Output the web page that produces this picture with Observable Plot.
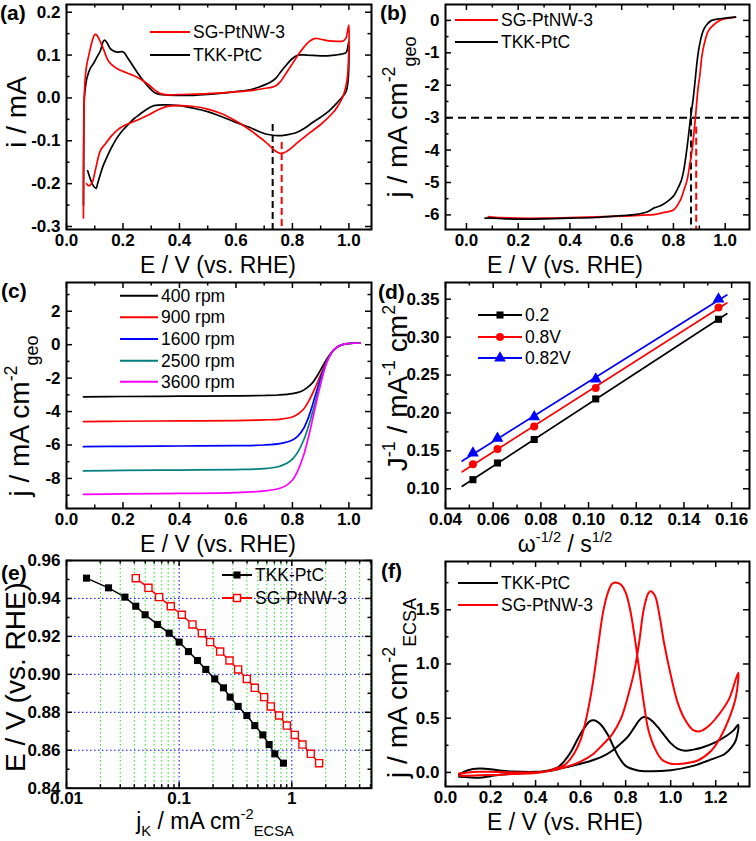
<!DOCTYPE html>
<html><head><meta charset="utf-8">
<script src="https://cdn.jsdelivr.net/npm/d3@7"></script>
<script src="https://cdn.jsdelivr.net/npm/@observablehq/plot@0.6"></script>
<style>
body{margin:0;background:#fff;}
#fig{position:relative;width:756px;height:841px;overflow:hidden;background:#fff;}
#fig svg{position:absolute;overflow:visible;}
</style></head><body><div id="fig"></div>
<script>
// ---------------- DATA ----------------
// (a) CV in N2 : [E (V vs RHE), i (mA)] closed loops
const aTKK = [[0.06,-0.25],[0.061,-0.1],[0.063,0.0],[0.068,0.03],[0.073,0.048],[0.085,0.07],[0.097,0.082],[0.11,0.098],[0.12,0.11],[0.13,0.132],[0.135,0.135],[0.144,0.128],[0.155,0.115],[0.165,0.11],[0.18,0.107],[0.197,0.108],[0.205,0.105],[0.215,0.095],[0.232,0.078],[0.25,0.06],[0.27,0.042],[0.286,0.029],[0.305,0.016],[0.32,0.01],[0.35,0.007],[0.4,0.006],[0.45,0.006],[0.5,0.008],[0.55,0.011],[0.6,0.015],[0.65,0.019],[0.68,0.025],[0.72,0.036],[0.74,0.045],[0.76,0.062],[0.78,0.078],[0.8,0.092],[0.82,0.1],[0.85,0.1],[0.9,0.098],[0.95,0.1],[0.98,0.103],[0.99,0.106],[0.995,0.115],[1.0,0.132],
[1.0,0.09],[0.997,0.04],[0.99,0.015],[0.98,0.005],[0.96,-0.01],[0.93,-0.03],[0.9,-0.045],[0.87,-0.058],[0.84,-0.072],[0.81,-0.082],[0.78,-0.086],[0.75,-0.088],[0.72,-0.086],[0.7,-0.083],[0.67,-0.075],[0.65,-0.069],[0.6,-0.057],[0.55,-0.044],[0.5,-0.032],[0.45,-0.024],[0.4,-0.018],[0.35,-0.016],[0.31,-0.018],[0.28,-0.028],[0.26,-0.038],[0.24,-0.048],[0.22,-0.061],[0.2,-0.075],[0.18,-0.092],[0.16,-0.115],[0.15,-0.128],[0.13,-0.158],[0.12,-0.178],[0.11,-0.2],[0.105,-0.211],[0.095,-0.205],[0.085,-0.19],[0.075,-0.17]];
const aSG = [[0.06,-0.28],[0.061,-0.1],[0.064,0.02],[0.07,0.07],[0.079,0.1],[0.09,0.13],[0.1,0.148],[0.105,0.148],[0.115,0.138],[0.132,0.112],[0.145,0.09],[0.156,0.08],[0.18,0.068],[0.2,0.062],[0.227,0.055],[0.26,0.045],[0.286,0.033],[0.31,0.02],[0.333,0.01],[0.36,0.007],[0.4,0.008],[0.5,0.01],[0.6,0.014],[0.65,0.017],[0.7,0.022],[0.74,0.028],[0.76,0.04],[0.78,0.06],[0.8,0.08],[0.82,0.1],[0.84,0.118],[0.86,0.132],[0.88,0.139],[0.9,0.137],[0.93,0.133],[0.96,0.132],[0.98,0.133],[0.99,0.14],[0.995,0.155],[1.0,0.17],
[1.0,0.12],[0.995,0.05],[0.99,0.03],[0.98,0.005],[0.96,-0.02],[0.94,-0.037],[0.9,-0.062],[0.86,-0.082],[0.82,-0.103],[0.79,-0.12],[0.77,-0.128],[0.755,-0.129],[0.74,-0.124],[0.72,-0.112],[0.7,-0.1],[0.68,-0.09],[0.65,-0.075],[0.6,-0.054],[0.55,-0.037],[0.5,-0.026],[0.45,-0.02],[0.4,-0.018],[0.36,-0.019],[0.33,-0.026],[0.29,-0.04],[0.25,-0.052],[0.22,-0.06],[0.2,-0.066],[0.18,-0.075],[0.16,-0.088],[0.14,-0.105],[0.12,-0.123],[0.103,-0.166],[0.091,-0.197],[0.079,-0.205],[0.071,-0.2]];
const aPeakE = [0.73, 0.762];          // TKK, SG reduction peak
const aPeakTop = [-0.062, -0.104];
const aPeakColor = ["#000000", "#ff0000"];

// (b) ORR polarisation, 1600 rpm : [E, j]
const bTKK = [[0.072,-6.1],[0.1,-6.1],[0.15,-6.12],[0.2,-6.13],[0.3,-6.12],[0.4,-6.1],[0.5,-6.08],[0.6,-6.02],[0.65,-5.99],[0.7,-5.9],[0.724,-5.79],[0.75,-5.72],[0.776,-5.59],[0.8,-5.42],[0.814,-5.23],[0.83,-4.95],[0.84,-4.62],[0.853,-3.9],[0.866,-3.02],[0.875,-2.5],[0.882,-2.0],[0.894,-1.1],[0.905,-0.6],[0.916,-0.3],[0.93,-0.12],[0.948,0.0],[0.97,0.04],[1.0,0.07],[1.04,0.1]];
const bSG = [[0.085,-6.05],[0.1,-6.07],[0.2,-6.1],[0.3,-6.1],[0.4,-6.08],[0.5,-6.06],[0.6,-6.04],[0.65,-6.02],[0.7,-6.0],[0.724,-5.99],[0.76,-5.93],[0.8,-5.85],[0.827,-5.54],[0.84,-5.25],[0.853,-4.92],[0.863,-4.45],[0.872,-4.0],[0.885,-3.0],[0.895,-2.1],[0.902,-1.7],[0.91,-1.1],[0.92,-0.7],[0.936,-0.31],[0.961,-0.1],[0.98,0.0],[1.0,0.05],[1.04,0.1]];
const bHalfE = [0.868, 0.888];
const bHalfTop = [-2.7, -3.3];
const bRef = [-3];

// (c) SG-PtNW-3 at several rotation rates : [E, j]
const cLabels = ["400 rpm","900 rpm","1600 rpm","2500 rpm","3600 rpm"];
const cColors = ["#000000","#ff0000","#0000ff","#008080","#ff00ff"];
const c400 = [[0.06,-3.12],[0.2,-3.1],[0.4,-3.08],[0.6,-3.06],[0.7,-3.04],[0.75,-3.01],[0.8,-2.93],[0.83,-2.8],[0.85,-2.6],[0.87,-2.3],[0.89,-1.8],[0.91,-1.2],[0.93,-0.65],[0.95,-0.25],[0.97,-0.05],[1.0,0.07],[1.04,0.1]];
const c900 = [[0.06,-4.6],[0.2,-4.58],[0.4,-4.56],[0.6,-4.54],[0.7,-4.5],[0.76,-4.45],[0.8,-4.33],[0.82,-4.15],[0.84,-3.85],[0.86,-3.3],[0.88,-2.6],[0.9,-1.8],[0.92,-1.0],[0.94,-0.45],[0.96,-0.12],[0.98,0.02],[1.0,0.07],[1.04,0.1]];
const c1600 = [[0.06,-6.1],[0.2,-6.08],[0.4,-6.06],[0.6,-6.04],[0.7,-6.0],[0.76,-5.9],[0.8,-5.7],[0.82,-5.45],[0.84,-5.0],[0.86,-4.2],[0.88,-3.1],[0.9,-2.0],[0.92,-1.05],[0.94,-0.45],[0.96,-0.12],[0.98,0.02],[1.0,0.07],[1.04,0.1]];
const c2500 = [[0.06,-7.55],[0.2,-7.52],[0.4,-7.5],[0.6,-7.47],[0.7,-7.42],[0.75,-7.3],[0.78,-7.1],[0.8,-6.85],[0.82,-6.4],[0.84,-5.7],[0.86,-4.7],[0.88,-3.5],[0.9,-2.2],[0.92,-1.1],[0.94,-0.45],[0.96,-0.12],[0.98,0.02],[1.0,0.07],[1.04,0.1]];
const c3600 = [[0.06,-8.95],[0.2,-8.93],[0.4,-8.9],[0.6,-8.85],[0.7,-8.75],[0.75,-8.62],[0.78,-8.4],[0.8,-8.1],[0.82,-7.5],[0.84,-6.6],[0.86,-5.3],[0.88,-3.8],[0.9,-2.35],[0.92,-1.15],[0.94,-0.45],[0.96,-0.12],[0.98,0.02],[1.0,0.07],[1.04,0.1]];

// (d) Koutecky-Levich
const dX = [0.0515, 0.0618, 0.0772, 0.1030, 0.1545];
const d02 = [0.112, 0.134, 0.165, 0.2185, 0.3235];
const d08 = [0.1325, 0.1525, 0.182, 0.233, 0.339];
const d082 = [0.147, 0.1665, 0.195, 0.2445, 0.35];
const dLabels = ["0.2", "0.8V", "0.82V"];
const dColors = ["#000000", "#ff0000", "#0000ff"];
const dSymbols = ["square", "circle", "triangle"];
const dFitRange = [0.047, 0.158];

// (e) Tafel
const eE = [0.9507,0.9456,0.9407,0.9359,0.9314,0.9263,0.9217,0.9170,0.9120,0.9073,0.9026,0.8976,0.8929,0.8880,0.8831,0.8783,0.8730,0.8681,0.8630,0.8581,0.8532];
const eTKK = [0.01505,0.0236,0.0330,0.0412,0.0499,0.0642,0.0815,0.100,0.121,0.1455,0.1725,0.207,0.2474,0.2836,0.334,0.399,0.4694,0.553,0.629,0.7066,0.843];
const eSG = [0.0412,0.0534,0.0664,0.0843,0.1056,0.1313,0.159,0.1884,0.2312,0.2798,0.334,0.399,0.469,0.568,0.651,0.772,0.903,1.063,1.2435,1.474,1.748];

// (f) methanol oxidation CV : [E, j]
const fTKK = [[0.06,-0.02],[0.1,0.02],[0.15,0.035],[0.2,0.03],[0.25,0.015],[0.3,0.008],[0.4,0.005],[0.45,0.01],[0.5,0.03],[0.55,0.055],[0.6,0.08],[0.65,0.11],[0.7,0.15],[0.74,0.2],[0.78,0.27],[0.81,0.33],[0.84,0.42],[0.86,0.48],[0.88,0.51],[0.9,0.5],[0.92,0.47],[0.95,0.4],[0.98,0.32],[1.0,0.27],[1.03,0.22],[1.065,0.2],[1.1,0.21],[1.14,0.23],[1.2,0.28],[1.25,0.34],[1.28,0.39],[1.3,0.44],
[1.29,0.3],[1.27,0.23],[1.24,0.17],[1.18,0.12],[1.1,0.06],[1.0,0.02],[0.9,0.01],[0.85,0.02],[0.8,0.06],[0.77,0.14],[0.75,0.22],[0.72,0.35],[0.69,0.44],[0.66,0.48],[0.64,0.47],[0.62,0.42],[0.59,0.32],[0.56,0.2],[0.53,0.11],[0.5,0.05],[0.45,0.015],[0.4,0.0],[0.3,-0.01],[0.25,-0.02],[0.2,-0.035],[0.15,-0.05],[0.1,-0.045],[0.06,-0.04]];
const fSG = [[0.06,-0.01],[0.1,0.0],[0.15,0.005],[0.2,0.005],[0.3,0.0],[0.4,0.0],[0.45,0.01],[0.5,0.03],[0.55,0.06],[0.6,0.1],[0.65,0.16],[0.7,0.26],[0.74,0.35],[0.78,0.5],[0.81,0.7],[0.84,0.95],[0.86,1.2],[0.88,1.5],[0.9,1.65],[0.91,1.67],[0.93,1.63],[0.95,1.45],[0.97,1.2],[1.0,0.9],[1.03,0.65],[1.06,0.5],[1.1,0.39],[1.13,0.38],[1.17,0.43],[1.22,0.55],[1.26,0.68],[1.3,0.92],
[1.29,0.7],[1.26,0.5],[1.22,0.32],[1.18,0.2],[1.12,0.11],[1.05,0.08],[1.0,0.08],[0.96,0.12],[0.93,0.22],[0.9,0.4],[0.88,0.65],[0.86,0.95],[0.84,1.25],[0.82,1.5],[0.8,1.66],[0.78,1.73],[0.76,1.75],[0.74,1.74],[0.72,1.65],[0.7,1.48],[0.68,1.2],[0.66,0.9],[0.64,0.65],[0.62,0.45],[0.6,0.3],[0.57,0.17],[0.53,0.07],[0.48,0.03],[0.45,0.01],[0.4,-0.005],[0.3,-0.015],[0.2,-0.025],[0.1,-0.03],[0.06,-0.03]];

// tick values
const tE = [0,0.2,0.4,0.6,0.8,1.0], tEm = [0.1,0.3,0.5,0.7,0.9];
const aYt = [-0.3,-0.2,-0.1,0,0.1,0.2], aYm = [-0.25,-0.15,-0.05,0.05,0.15];
const bYt = [-6,-5,-4,-3,-2,-1,0], bYm = [-5.5,-4.5,-3.5,-2.5,-1.5,-0.5];
const bXm = [0.1,0.3,0.5,0.7,0.9];
const cYt = [-8,-6,-4,-2,0,2], cYm = [-9,-7,-5,-3,-1,1,3];
const dXt = [0.04,0.06,0.08,0.10,0.12,0.14,0.16], dXm = [0.05,0.07,0.09,0.11,0.13,0.15];
const dYt = [0.10,0.15,0.20,0.25,0.30,0.35], dYm = [0.125,0.175,0.225,0.275,0.325];
const eXt = [0.01,0.1,1], eXm = [0.02,0.03,0.04,0.05,0.06,0.07,0.08,0.09,0.2,0.3,0.4,0.5,0.6,0.7,0.8,0.9,2,3,4,5];
const eYt = [0.84,0.86,0.88,0.90,0.92,0.94,0.96], eYm = [0.85,0.87,0.89,0.91,0.93,0.95];
const fXt = [0,0.2,0.4,0.6,0.8,1.0,1.2], fXm = [0.1,0.3,0.5,0.7,0.9,1.1,1.3];
const fYt = [0,0.5,1.0,1.5], fYm = [0.25,0.75,1.25,1.75];

// ---------------- DRAWING ----------------
const FONT = "'Liberation Sans', Arial, Helvetica, sans-serif";
const fig = document.getElementById("fig");
const P = d => d[0], Q = d => d[1];
const TICKTXT = {fontSize: 17, fontWeight: "bold", fontFamily: FONT, fill: "#000"};

function panel(o) {
  const [fx0, fx1, fy0, fy1] = o.frame;
  const fw = fx1 - fx0, fh = fy1 - fy0;
  const tk = {stroke: "#000", strokeWidth: 1.5};
  const svg = Plot.plot({
    width: o.width, height: o.height,
    marginLeft: fx0, marginRight: o.width - fx1, marginTop: fy0, marginBottom: o.height - fy1,
    x: o.x, y: o.y,
    style: {fontFamily: FONT, background: "transparent", overflow: "visible", color: "#000"},
    marks: [
      ...o.marks,
      Plot.tickX(o.xt, {x: d => d, insetTop: fh - 6, ...tk}),
      Plot.tickX(o.xt, {x: d => d, insetBottom: fh - 6, ...tk}),
      Plot.tickX(o.xm, {x: d => d, insetTop: fh - 3.5, ...tk}),
      Plot.tickX(o.xm, {x: d => d, insetBottom: fh - 3.5, ...tk}),
      Plot.tickY(o.yt, {y: d => d, insetRight: fw - 6, ...tk}),
      Plot.tickY(o.yt, {y: d => d, insetLeft: fw - 6, ...tk}),
      Plot.tickY(o.ym, {y: d => d, insetRight: fw - 3.5, ...tk}),
      Plot.tickY(o.ym, {y: d => d, insetLeft: fw - 3.5, ...tk}),
      Plot.axisX(o.xt, {tickSize: 0, tickPadding: 4, tickFormat: o.xf, label: null, ...TICKTXT}),
      Plot.axisY(o.yt, {tickSize: 0, tickPadding: 6, tickFormat: o.yf, label: null, ...TICKTXT}),
      Plot.frame({stroke: "#000", strokeWidth: 2})
    ]
  });
  svg.style.left = o.left + "px";
  svg.style.top = o.top + "px";
  fig.appendChild(svg);
  return svg;
}

function rich(svg, x, y, parts, rotate = false, size = 23) {
  const t = d3.select(svg).append("text")
    .attr("transform", `translate(${x},${y})` + (rotate ? " rotate(-90)" : ""))
    .attr("text-anchor", "middle").attr("fill", "#000")
    .style("font-family", FONT).style("font-size", size + "px").style("font-weight", "normal")
    .style("white-space", "pre");
  let shift = 0;
  for (const [s, k] of parts) {
    const target = k === 1 ? -0.42 * size : k === -1 ? 0.32 * size : 0;
    t.append("tspan").attr("dy", target - shift)
      .style("font-size", (k ? 0.64 * size : size) + "px").text(s);
    shift = target;
  }
}
function tag(svg, x, y, s) {
  d3.select(svg).append("text").attr("x", x).attr("y", y).attr("fill", "#000").attr("text-anchor", "start")
    .style("font-family", FONT).style("font-size", "21px").style("font-weight", "bold").text(s);
}
function legendRow(svg, x1, x2, y, color, label, marker, open) {
  const g = d3.select(svg).append("g");
  g.append("line").attr("x1", x1).attr("x2", x2).attr("y1", y).attr("y2", y)
    .attr("stroke", color).attr("stroke-width", 2);
  if (marker) {
    const sym = {square: d3.symbolSquare, circle: d3.symbolCircle, triangle: d3.symbolTriangle}[marker];
    g.append("path").attr("d", d3.symbol(sym, marker === "triangle" ? 60 : 50)())
      .attr("transform", `translate(${(x1 + x2) / 2},${y})`)
      .attr("fill", open ? "#fff" : color).attr("stroke", color).attr("stroke-width", open ? 1.5 : 0);
  }
  g.append("text").attr("x", x2 + 3).attr("y", y + 6).attr("fill", "#000").attr("text-anchor", "start")
    .style("font-family", FONT).style("font-size", "17.5px").style("font-weight", "normal").text(label);
}
const f1 = d => d.toFixed(1), f0 = d => d.toFixed(0), f2 = d => d.toFixed(2);
const EV = [["E / V (vs. RHE)", 0]];
const YS = 28;

// (a)
{
  const peaks = aPeakE.map((e, i) => ({x: e, y1: aPeakTop[i], c: aPeakColor[i]}));
  const s = panel({left: 0, top: 0, width: 378, height: 280, frame: [66, 371, 4, 229],
    x: {domain: [0, 1.08]}, y: {domain: [-0.307, 0.218]},
    xt: tE, xm: tEm, yt: aYt, ym: aYm, xf: f1, yf: f1,
    marks: [
      Plot.ruleX(peaks, {x: "x", y1: "y1", y2: -0.307, stroke: "c", strokeWidth: 2, strokeDasharray: "7,4"}),
      Plot.line(aTKK, {x: P, y: Q, stroke: "#000", strokeWidth: 1.7, curve: "catmull-rom"}),
      Plot.line(aSG, {x: P, y: Q, stroke: "#ff0000", strokeWidth: 1.7, curve: "catmull-rom"})
    ]});
  tag(s, 0, 20, "(a)");
  rich(s, 218, 273, EV);
  rich(s, 26, 112, [["i / mA", 0]], true, YS);
  legendRow(s, 150, 190, 32, "#ff0000", "SG-PtNW-3");
  legendRow(s, 150, 190, 55, "#000", "TKK-PtC");
}
// (b)
{
  const halves = bHalfE.map((e, i) => ({x: e, y1: bHalfTop[i], c: aPeakColor[i]}));
  const s = panel({left: 378, top: 0, width: 378, height: 280, frame: [67, 371, 4, 229],
    x: {domain: [-0.081, 1.094]}, y: {domain: [-6.45, 0.49]},
    xt: tE, xm: bXm, yt: bYt, ym: bYm, xf: f1, yf: f0,
    marks: [
      Plot.ruleY(bRef, {y: d => d, stroke: "#000", strokeWidth: 2, strokeDasharray: "8,5"}),
      Plot.ruleX(halves, {x: "x", y1: "y1", y2: -6.45, stroke: "c", strokeWidth: 2, strokeDasharray: "7,4"}),
      Plot.line(bSG, {x: P, y: Q, stroke: "#ff0000", strokeWidth: 1.7, curve: "catmull-rom"}),
      Plot.line(bTKK, {x: P, y: Q, stroke: "#000", strokeWidth: 1.7, curve: "catmull-rom"})
    ]});
  tag(s, 2, 20, "(b)");
  rich(s, 187, 273, EV);
  rich(s, 29, 117, [["j / mA cm", 0], ["-2", 1], ["geo", -1]], true, YS);
  legendRow(s, 77, 120, 20, "#ff0000", "SG-PtNW-3");
  legendRow(s, 77, 120, 42, "#000", "TKK-PtC");
}
// (c)
{
  const series = [c400, c900, c1600, c2500, c3600];
  const s = panel({left: 0, top: 280, width: 378, height: 280, frame: [66, 371, 2, 228],
    x: {domain: [0, 1.08]}, y: {domain: [-9.8, 3.72]},
    xt: tE, xm: tEm, yt: cYt, ym: cYm, xf: f1, yf: f0,
    marks: series.map((d, i) => Plot.line(d, {x: P, y: Q, stroke: cColors[i], strokeWidth: 1.7, curve: "catmull-rom"}))});
  tag(s, 1, 18, "(c)");
  rich(s, 218, 272, EV);
  rich(s, 29, 136, [["j / mA cm", 0], ["-2", 1], ["geo", -1]], true, YS);
  const rows = [15.7, 37.3, 59, 80.7, 101.7];
  cLabels.forEach((l, i) => legendRow(s, 120, 158, rows[i], cColors[i], l));
}
// (d)
{
  const sets = [d02, d08, d082];
  const pts = sets.flatMap((ys, k) => ys.map((y, i) => ({x: dX[i], y, k})));
  const fits = sets.flatMap((ys, k) => {
    const mx = d3.mean(dX), my = d3.mean(ys);
    const sl = d3.sum(dX, (x, i) => (x - mx) * (ys[i] - my)) / d3.sum(dX, x => (x - mx) ** 2);
    return dFitRange.map(x => ({x, y: my + sl * (x - mx), k}));
  });
  const s = panel({left: 378, top: 280, width: 378, height: 280, frame: [67, 371, 2, 228],
    x: {domain: [0.04, 0.1675]}, y: {domain: [0.074, 0.372]},
    xt: dXt, xm: dXm, yt: dYt, ym: dYm, xf: f2, yf: f2,
    marks: [
      ...[0, 1, 2].map(k => Plot.line(fits.filter(d => d.k === k), {x: "x", y: "y", stroke: dColors[k], strokeWidth: 1.7})),
      ...[0, 1, 2].map(k => Plot.dot(pts.filter(d => d.k === k), {x: "x", y: "y", symbol: dSymbols[k], r: k === 2 ? 4.4 : 4, fill: dColors[k], stroke: "none"}))
    ]});
  tag(s, 0, 19, "(d)");
  rich(s, 187, 272, [["ω", 0], ["-1/2", 1], [" / s", 0], ["1/2", 1]]);
  rich(s, 29, 108, [["J", 0], ["-1", 1], [" / mA", 0], ["-1", 1], [" cm", 0], ["2", 1]], true, YS);
  [35, 57, 78].forEach((y, k) => legendRow(s, 100, 144, y, dColors[k], dLabels[k], dSymbols[k]));
}
// (e)
{
  const tkk = eTKK.map((j, i) => ({j, E: eE[i]}));
  const sg = eSG.map((j, i) => ({j, E: eE[i]}));
  const s = panel({left: 0, top: 550, width: 378, height: 291, frame: [66, 371, 10, 237.7],
    x: {type: "log", domain: [0.01, 5.1]}, y: {domain: [0.84, 0.96]},
    xt: eXt, xm: eXm, yt: eYt, ym: eYm, xf: d => String(d), yf: f2,
    marks: [
      Plot.ruleX(eXm, {x: d => d, stroke: "#22dd22", strokeWidth: 1, strokeDasharray: "1.5,2.5"}),
      Plot.ruleX(eXt.slice(1), {x: d => d, stroke: "#0000ff", strokeWidth: 1, strokeDasharray: "1.5,2.5"}),
      Plot.ruleY(eYt.slice(1, -1), {y: d => d, stroke: "#0000ff", strokeWidth: 1, strokeDasharray: "1.5,2.5"}),
      Plot.line(tkk, {x: "j", y: "E", stroke: "#000", strokeWidth: 1.5}),
      Plot.dot(tkk, {x: "j", y: "E", symbol: "square", r: 4, fill: "#000"}),
      Plot.line(sg, {x: "j", y: "E", stroke: "#ff0000", strokeWidth: 1.5}),
      Plot.dot(sg, {x: "j", y: "E", symbol: "square", r: 4, fill: "#fff", stroke: "#ff0000", strokeWidth: 1.4})
    ]});
  tag(s, 1, 30, "(e)");
  rich(s, 215, 279, [["j", 0], ["K", -1], [" / mA cm", 0], ["-2", 1], ["ECSA", -1]]);
  rich(s, 25, 127, EV, true, YS);
  legendRow(s, 222, 252, 25, "#000", "TKK-PtC", "square");
  legendRow(s, 222, 252, 48, "#ff0000", "SG-PtNW-3", "square", true);
}
// (f)
{
  const s = panel({left: 378, top: 550, width: 378, height: 291, frame: [67, 371, 11, 236],
    x: {domain: [0, 1.35]}, y: {domain: [-0.13, 1.945]},
    xt: fXt, xm: fXm, yt: fYt, ym: fYm, xf: f1, yf: f1,
    marks: [
      Plot.line(fTKK, {x: P, y: Q, stroke: "#000", strokeWidth: 2, curve: "catmull-rom"}),
      Plot.line(fSG, {x: P, y: Q, stroke: "#ff0000", strokeWidth: 2, curve: "catmull-rom"})
    ]});
  tag(s, 3, 28, "(f)");
  rich(s, 187, 280, EV);
  rich(s, 29, 138, [["j / mA cm", 0], ["-2", 1], ["ECSA", -1]], true, YS);
  legendRow(s, 80, 120, 33, "#000", "TKK-PtC");
  legendRow(s, 80, 120, 55, "#ff0000", "SG-PtNW-3");
}
</script></body></html>
